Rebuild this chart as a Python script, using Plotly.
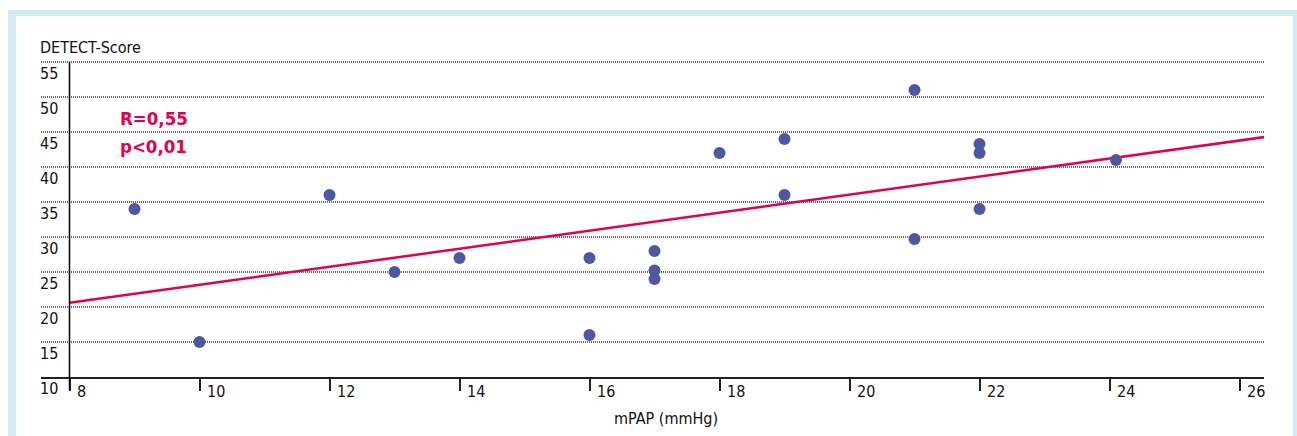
import plotly.graph_objects as go

# ---- data ----
mpap = [9, 10, 12, 13, 14, 16, 16, 17, 17, 17, 18, 19, 19, 21, 21, 22, 22, 22, 24.1]
detect = [34, 15, 36, 25, 27, 27, 16, 28, 25.2, 24, 42, 44, 36, 51, 29.7, 43.3, 42, 34, 41]
fit_x = [8, 26.4]
fit_y = [20.6, 44.3]
x_ticks = [8, 10, 12, 14, 16, 18, 20, 22, 24, 26]
y_ticks = [10, 15, 20, 25, 30, 35, 40, 45, 50, 55]
stat_lines = ["R=0,55", "p<0,01"]

FONT = "Liberation Sans Narrow, Arial Narrow, DejaVu Sans Condensed, sans-serif"
RED = "#e2004f"
DOT = "#4d58a2"
CYAN = "#d3ebef"

W, H = 1297, 436
L, R, T, B = 41, 33, 60, 59
PW, PH = W - L - R, H - T - B


def px_x(p):
    return (p - L) / PW


def px_y(p):
    return (H - B - p) / PH


fig = go.Figure()
fig.add_trace(go.Scatter(x=fit_x, y=fit_y, mode="lines",
                         line=dict(color=RED, width=2.5), hoverinfo="skip"))
fig.add_trace(go.Scatter(x=mpap, y=detect, mode="markers",
                         marker=dict(color=DOT, size=12, line=dict(width=0))))

annotations = []
for v in y_ticks:
    annotations.append(dict(x=px_x(38), xref="paper", y=v, yref="y", text=str(v),
                            showarrow=False, xanchor="left", yanchor="middle",
                            yshift=-11, font=dict(family=FONT, size=16, color="#111")))
annotations.append(dict(x=px_x(38), xref="paper", y=px_y(47), yref="paper", text="DETECT-Score",
                        showarrow=False, xanchor="left", yanchor="middle",
                        font=dict(family=FONT, size=16, color="#111")))
annotations.append(dict(x=px_x(666), xref="paper", y=px_y(418), yref="paper", text="mPAP (mmHg)",
                        showarrow=False, xanchor="center", yanchor="middle",
                        font=dict(family=FONT, size=16, color="#111")))
for i, t in enumerate(stat_lines):
    annotations.append(dict(x=px_x(118), xref="paper", y=px_y(118 + 28 * i), yref="paper",
                            text="<b>" + t + "</b>", showarrow=False, xanchor="left",
                            yanchor="middle", font=dict(family=FONT, size=18.5, color=RED)))

shapes = [
    dict(type="rect", xref="paper", yref="paper", x0=px_x(8), x1=px_x(1300),
         y0=px_y(10), y1=px_y(440), fillcolor=CYAN, line=dict(width=0), layer="below"),
    dict(type="rect", xref="paper", yref="paper", x0=px_x(16), x1=px_x(1293),
         y0=px_y(16), y1=px_y(440), fillcolor="white", line=dict(width=0), layer="below"),
    dict(type="line", xref="x", yref="paper", x0=8, x1=8, y0=px_y(390), y1=px_y(62),
         line=dict(color="black", width=1.5)),
]

fig.update_layout(
    width=W, height=H, autosize=False,
    margin=dict(l=L, r=R, t=T, b=B, pad=0),
    paper_bgcolor="white", plot_bgcolor="rgba(0,0,0,0)",
    showlegend=False,
    font=dict(family=FONT, size=16, color="#111"),
    xaxis=dict(range=[7.5615, 26.377], tickvals=x_ticks, ticktext=[str(v) for v in x_ticks],
               showgrid=False, zeroline=False, showline=True, linecolor="#222", linewidth=1.5,
               ticks="outside", ticklen=12, tickwidth=1.5, tickcolor="#222",
               ticklabelposition="outside right", ticklabelstandoff=-1, ticklabelshift=6,
               tickfont=dict(family=FONT, size=16, color="#111")),
    yaxis=dict(range=[10, 55.29], tickvals=y_ticks, showticklabels=False,
               showgrid=True, gridcolor="#666", gridwidth=1.5, griddash="1px,1px",
               zeroline=False, showline=False, ticks=""),
    annotations=annotations, shapes=shapes,
)

fig.write_html("out.html", config={"displayModeBar": False},
               post_script="document.body.style.margin='0';document.body.style.padding='0';")
